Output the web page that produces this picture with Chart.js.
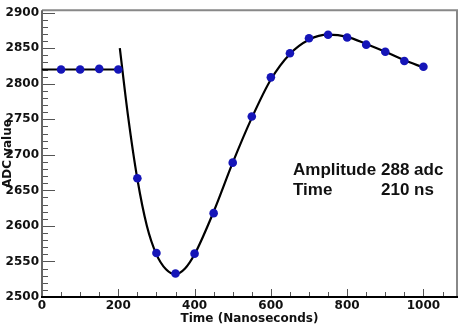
<!DOCTYPE html>
<html><head><meta charset="utf-8">
<script src="https://cdn.jsdelivr.net/npm/chart.js@4"></script>
<style>html,body{margin:0;padding:0;background:#fff}#wrap{width:463px;height:328px}</style>
</head><body><div id="wrap"><canvas id="c" width="463" height="328"></canvas></div>
<script>
// Measured samples (ns, ADC counts)
const timeNs    = [50, 100, 150, 200, 250, 300, 350, 400, 450, 500, 550, 600, 650, 700, 750, 800, 850, 900, 950, 1000];
const adcValues = [2820, 2820, 2821, 2820, 2667, 2562, 2533, 2561, 2618, 2689, 2754, 2809, 2843, 2864, 2869, 2865, 2855, 2845, 2832, 2824];
// Fitted pulse curve
const fitTime = [204, 225, 250, 275, 300, 325, 350, 375, 400, 450, 500, 550, 600, 650, 700, 750, 800, 850, 900, 950, 1000];
const fitAdc  = [2850, 2757, 2666, 2600, 2560, 2539, 2532, 2540, 2560, 2620, 2689, 2752, 2806, 2842, 2862, 2869, 2866, 2856, 2845, 2833, 2823];
// Pedestal line
const baseTime = [0, 212];
const baseAdc  = [2820, 2820];
// Axis labels
const xTitle = 'Time (Nanoseconds)';
const yTitle = 'ADC value';
const annotationRows = [['Amplitude', '288 adc'], ['Time', '210 ns']];

const toXY = (xs, ys) => xs.map((x, i) => ({x: x, y: ys[i]}));

const tickFont = {family: "'DejaVu Sans'", weight: 'bold', size: 12};

const framePlugin = {
  id: 'frame',
  beforeDatasetsDraw(chart) {
    const {ctx, chartArea: a, scales: {x, y}} = chart;
    ctx.save();
    // inner ticks
    ctx.lineWidth = 1;
    ctx.strokeStyle = '#555';
    for (let v = 50; v < x.max; v += 50) {
      const px = Math.round(x.getPixelForValue(v)) + 0.5;
      const len = v % 200 === 0 ? 8 : 5;
      ctx.beginPath(); ctx.moveTo(px, a.bottom); ctx.lineTo(px, a.bottom - len); ctx.stroke();
    }
    for (let v = 2500; v <= 2900; v += 10) {
      const py = Math.round(y.getPixelForValue(v)) + 0.5;
      const len = v % 50 === 0 ? 13 : 6;
      ctx.beginPath(); ctx.moveTo(a.left, py); ctx.lineTo(a.left + len, py); ctx.stroke();
    }
    // frame
    ctx.lineWidth = 2;
    ctx.strokeStyle = '#888';
    ctx.beginPath(); ctx.moveTo(a.left, a.top); ctx.lineTo(a.right, a.top); ctx.lineTo(a.right, a.bottom); ctx.stroke();
    ctx.strokeStyle = '#666';
    ctx.beginPath(); ctx.moveTo(a.left, a.top); ctx.lineTo(a.left, a.bottom); ctx.stroke();
    ctx.strokeStyle = '#000';
    ctx.beginPath(); ctx.moveTo(a.left - 1, a.bottom); ctx.lineTo(a.right + 1, a.bottom); ctx.stroke();
    ctx.restore();
  },
  afterDraw(chart) {
    const {ctx, chartArea: a} = chart;
    ctx.save();
    ctx.fillStyle = '#111';
    ctx.font = "bold 17px 'Liberation Sans'";
    ctx.textBaseline = 'alphabetic';
    annotationRows.forEach((row, i) => {
      const by = a.top + 165 + i * 20;
      ctx.fillText(row[0], a.left + 251, by);
      ctx.fillText(row[1], a.left + 339, by);
    });
    ctx.restore();
  }
};

const plain = v => String(v);

new Chart(document.getElementById('c'), {
  type: 'line',
  data: {
    datasets: [
      {data: toXY(timeNs, adcValues), showLine: false, pointRadius: 4.3, pointBackgroundColor: '#1515b8', pointBorderColor: '#1515b8', pointBorderWidth: 0},
      {data: toXY(fitTime, fitAdc), borderColor: '#000', borderWidth: 2.2, pointRadius: 0, cubicInterpolationMode: 'monotone', fill: false},
      {data: toXY(baseTime, baseAdc), borderColor: '#000', borderWidth: 2, pointRadius: 0, fill: false}
    ]
  },
  options: {
    responsive: false,
    devicePixelRatio: 1,
    animation: false,
    events: [],
    layout: {padding: {top: 5, right: 6, left: 0, bottom: 0}},
    plugins: {legend: {display: false}, tooltip: {enabled: false}},
    scales: {
      x: {
        type: 'linear', min: 0, max: 1088,
        afterFit: s => { s.height = 31; },
        border: {display: false},
        grid: {display: false, drawTicks: false},
        ticks: {stepSize: 200, includeBounds: false, font: tickFont, color: '#111', padding: 2, maxRotation: 0, autoSkip: false, callback: plain},
        title: {display: true, text: xTitle, font: {family: "'DejaVu Sans'", weight: 'bold', size: 12}, color: '#111', padding: {top: 0, bottom: 2}}
      },
      y: {
        type: 'linear', min: 2500, max: 2903.5,
        afterFit: s => { s.width = 42; },
        border: {display: false},
        grid: {display: false, drawTicks: false},
        ticks: {stepSize: 50, includeBounds: false, font: tickFont, color: '#111', padding: 3, autoSkip: false, callback: plain},
        title: {display: true, text: yTitle, font: {family: "'DejaVu Sans'", weight: 'bold', size: 12}, color: '#111', padding: {top: 1, bottom: 0}}
      }
    }
  },
  plugins: [framePlugin]
});
</script>
</body></html>
